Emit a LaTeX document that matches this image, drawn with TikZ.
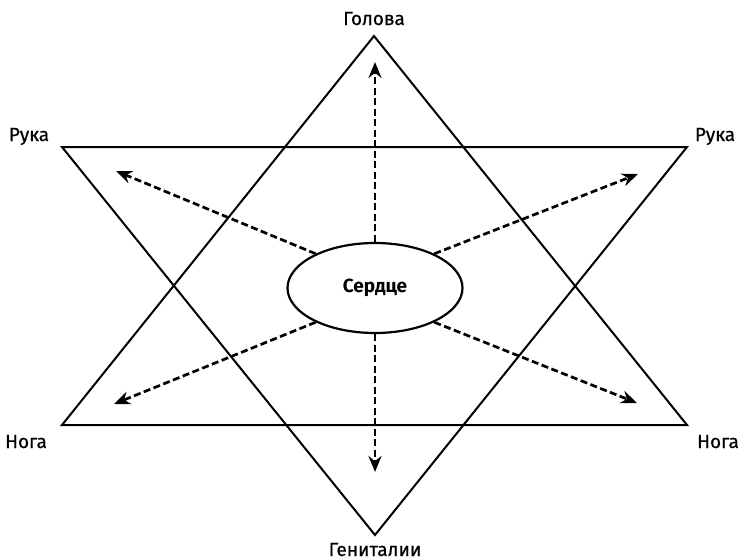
\documentclass[tikz,border=0pt]{standalone}
\usepackage{fontspec}
\setmainfont{Fira Sans}
\newfontfamily\lblfont{Fira Sans}[FakeBold=0.6]
\usetikzlibrary{arrows.meta,shapes.geometric}
\begin{document}
\begin{tikzpicture}[x=1pt,y=-1pt,
  tri/.style={line width=2pt,line join=miter},
  lbl/.style={font=\lblfont\fontsize{19}{21}\selectfont,inner sep=0pt},
  ray/.style={line width=2.7pt,dash pattern=on 7pt off 3.5pt,-{Stealth[length=16pt,width=13pt]}},
  heart/.style={ellipse,draw,line width=2.2pt,minimum width=175pt,minimum height=90pt,inner sep=0pt,font=\fontsize{19}{21}\selectfont\bfseries}]
\useasboundingbox (0,0) rectangle (745,560);
% triangle vertices
\coordinate (uA) at (374,36);
\coordinate (uL) at (62,425);
\coordinate (uR) at (687,425);
\coordinate (dL) at (62,147);
\coordinate (dR) at (687,147);
\coordinate (dA) at (375,535);
\draw[tri] (uA) -- (uL) -- (uR) -- cycle;
\draw[tri] (dL) -- (dR) -- (dA) -- cycle;
% centre
\node[heart] (h) at (375,288) {Сердце};
% arrow ends
\coordinate (eU) at (375,62);
\coordinate (eD) at (375,472);
\coordinate (eUL) at (116,171);
\coordinate (eUR) at (638,174);
\coordinate (eLL) at (114,404);
\coordinate (eLR) at (637,403);
\draw[ray] (h.north) -- (eU);
\draw[ray] (h.south) -- (eD);
\draw[ray] (h.150) -- (eUL);
\draw[ray] (h.30) -- (eUR);
\draw[ray] (h.210) -- (eLL);
\draw[ray] (h.330) -- (eLR);
% labels
\node[lbl,anchor=base] (tHead) at (374,25) {Голова};
\node[lbl,anchor=base] (tHL) at (29,141) {Рука};
\node[lbl,anchor=base] (tHR) at (715,141) {Рука};
\node[lbl,anchor=base] (tFL) at (26,448) {Нога};
\node[lbl,anchor=base] (tFR) at (718,448) {Нога};
\node[lbl,anchor=base] (tG) at (375,556) {Гениталии};
\end{tikzpicture}
\end{document}
